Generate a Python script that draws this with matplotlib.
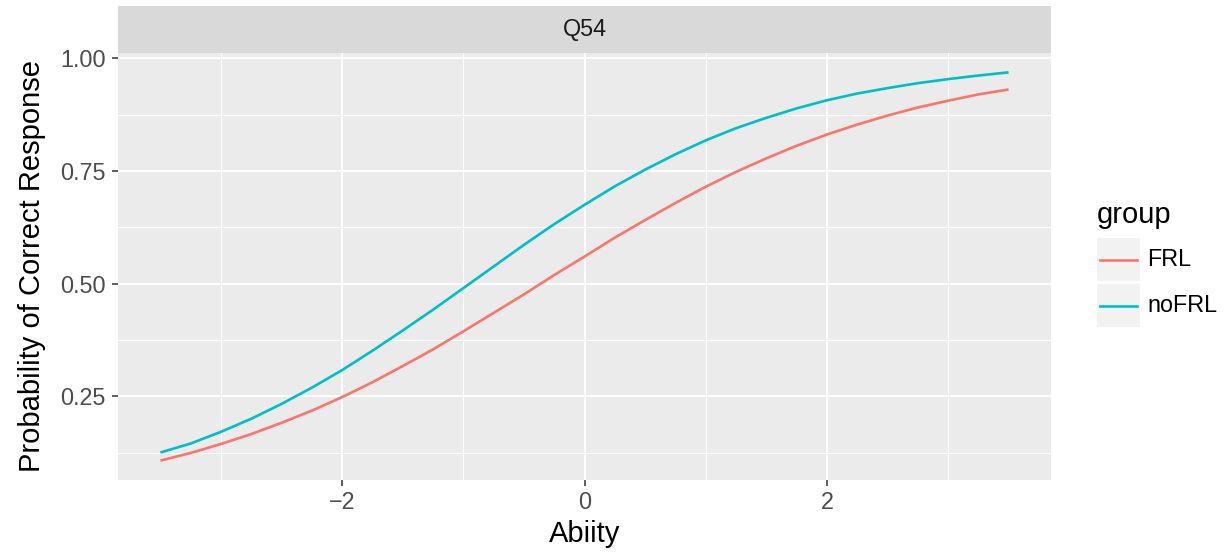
import matplotlib
matplotlib.use("Agg")
import matplotlib.pyplot as plt
from matplotlib.patches import Rectangle
from matplotlib.lines import Line2D

plt.rcParams['font.family'] = ['Liberation Sans', 'DejaVu Sans']

# values (ability grid, step 0.25)
ability = [-3.5, -3.25, -3.0, -2.75, -2.5, -2.25, -2.0, -1.75, -1.5, -1.25,
           -1.0, -0.75, -0.5, -0.25, 0.0, 0.25, 0.5, 0.75, 1.0, 1.25,
           1.5, 1.75, 2.0, 2.25, 2.5, 2.75, 3.0, 3.25, 3.5]
p_frl = [0.107, 0.124, 0.144, 0.166, 0.191, 0.218, 0.248, 0.281, 0.317, 0.354,
         0.394, 0.435, 0.476, 0.519, 0.560, 0.602, 0.641, 0.679, 0.715, 0.748,
         0.778, 0.806, 0.831, 0.853, 0.873, 0.891, 0.906, 0.920, 0.931]
p_nofrl = [0.125, 0.145, 0.171, 0.200, 0.233, 0.269, 0.308, 0.351, 0.396, 0.442,
           0.490, 0.538, 0.586, 0.632, 0.675, 0.716, 0.753, 0.787, 0.818, 0.845,
           0.868, 0.889, 0.907, 0.922, 0.934, 0.945, 0.954, 0.962, 0.969]
groups = ['FRL', 'noFRL']
colors = ['#F8766D', '#00BFC4']
panel_title = 'Q54'

W, H = 1225, 554
fig = plt.figure(figsize=(W / 100, H / 100), dpi=100)

def box(l, t, r, b):
    return [l / W, 1 - b / H, (r - l) / W, (b - t) / H]

ax = fig.add_axes(box(118, 53, 1051, 480))
ax.set_facecolor('#EBEBEB')
for s in ax.spines.values():
    s.set_visible(False)

ax.set_xlim(-3.85, 3.85)
ax.set_ylim(0.064, 1.012)
ax.set_xticks([-2, 0, 2])
ax.set_xticklabels(['\u22122', '0', '2'])
ax.set_xticks([-3, -1, 1, 3], minor=True)
ax.set_yticks([0.25, 0.5, 0.75, 1.0])
ax.set_yticklabels(['0.25', '0.50', '0.75', '1.00'])
ax.set_yticks([0.125, 0.375, 0.625, 0.875], minor=True)
ax.grid(which='major', color='white', lw=1.4)
ax.grid(which='minor', color='white', lw=0.7)
ax.set_axisbelow(True)
ax.tick_params(which='major', length=4, width=1.1, color='#333333',
               labelsize=16.8, labelcolor='#4D4D4D', pad=4)
ax.tick_params(axis='y', which='major', pad=5)
ax.tick_params(which='minor', length=0)

series = [p_frl, p_nofrl]
for vals, c in zip(series, colors):
    ax.plot(ability, vals, color=c, lw=1.9, solid_capstyle='butt')

ax.set_xlabel('Abiity', fontsize=21, labelpad=4)
ax.set_ylabel('Probability of Correct Response', fontsize=21, labelpad=10)

# facet strip
sax = fig.add_axes(box(118, 6, 1051, 53))
sax.set_facecolor('#D9D9D9')
sax.set_xticks([])
sax.set_yticks([])
for s in sax.spines.values():
    s.set_visible(False)
sax.text(0.5, 0.5, panel_title, ha='center', va='center', fontsize=16.8,
         color='#1A1A1A', transform=sax.transAxes)

# legend drawn by hand in ggplot style
fig.text(1097 / W, 1 - 215 / H, 'group', fontsize=21, ha='left', va='center')
key_tops = [238, 284]
for g, c, kt in zip(groups, colors, key_tops):
    fig.patches.append(Rectangle((1097 / W, 1 - (kt + 43) / H), 43 / W, 43 / H,
                                 transform=fig.transFigure, facecolor='#F2F2F2',
                                 edgecolor='none'))
    yc = 1 - (kt + 21.5) / H
    fig.lines.append(Line2D([1100 / W, 1137 / W], [yc, yc], transform=fig.transFigure,
                            color=c, lw=1.9))
    fig.text(1147 / W, yc, g, fontsize=16.8, ha='left', va='center', color='black')

fig.savefig('out.png', dpi=100)
